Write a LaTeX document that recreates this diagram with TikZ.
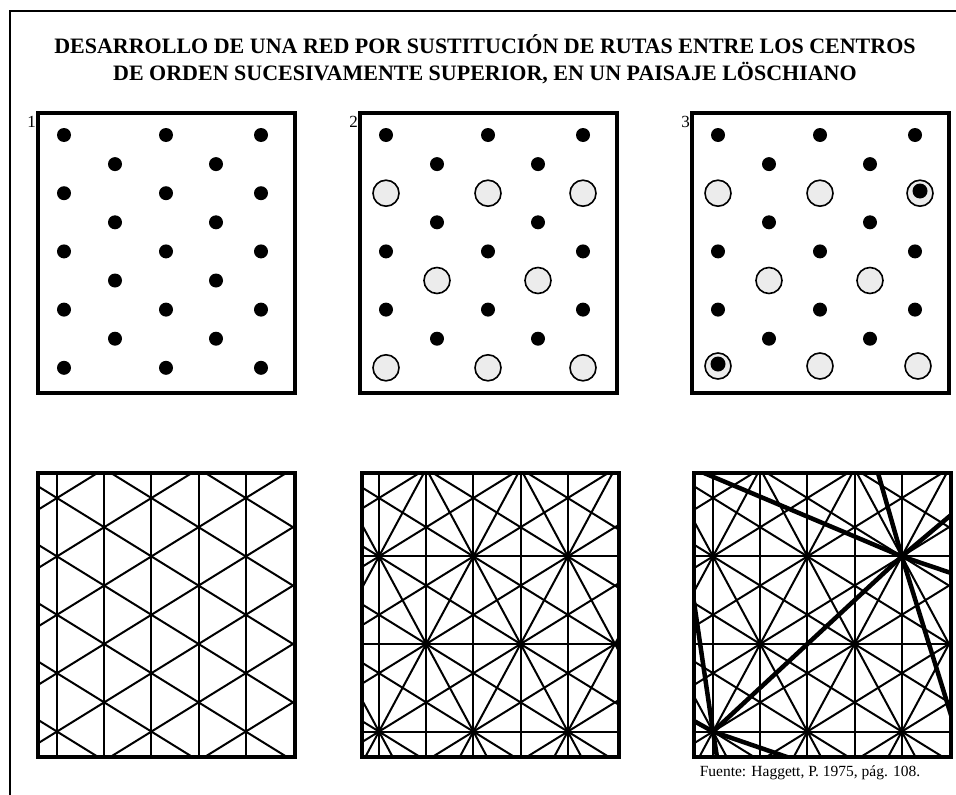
\documentclass[tikz,border=0pt]{standalone}
\usepackage{fontspec}
\setmainfont{Liberation Serif}
\definecolor{gris}{RGB}{236,236,236}
\tikzset{
  marco/.style={line width=4pt},
  ruta/.style={line width=2pt},
  rutagruesa/.style={line width=4.5pt, line cap=round},
  centro/.style={fill=black},
  centrodos/.style={draw=black, line width=1.6pt, fill=gris},
  titulo/.style={font=\bfseries\fontsize{22}{27}\selectfont, align=center, inner sep=0pt},
  numero/.style={font=\fontsize{17}{17}\selectfont, inner sep=0pt, anchor=base east},
  fuente/.style={font=\fontsize{15.5}{17}\selectfont, inner sep=0pt},
}
\newcommand{\puntos}[1]{%
  \foreach \fila in {0,2,4,6,8}
    \foreach \col in {26,128,223}
      \fill[centro] ({#1+\col},{135+29.1*\fila}) circle (7pt);
  \foreach \fila in {1,3,5,7}
    \foreach \col in {77,178}
      \fill[centro] ({#1+\col},{135+29.1*\fila}) circle (7pt);
}
\newcommand{\redbase}[1]{%
  \foreach \col in {0,...,4}
    \draw[ruta] ({#1+19+47.2*\col},473) -- ({#1+19+47.2*\col},757);
  \foreach \j in {-6,...,7}{
    \draw[ruta] ({#1+19+94.4*\j-56.6},463) -- ({#1+19+94.4*\j+434.9},767);
    \draw[ruta] ({#1+19+94.4*\j+56.6},463) -- ({#1+19+94.4*\j-434.9},767);
  }
}
\newcommand{\redsegundo}[1]{%
  \foreach \y in {556.4,644,731.6}
    \draw[ruta] (#1,\y) -- ({#1+257},\y);
  \foreach \j in {-3,...,5}{
    \draw[ruta] ({#1+19+94.4*\j-50.3},463) -- ({#1+19+94.4*\j+113.5},767);
    \draw[ruta] ({#1+19+94.4*\j+50.3},463) -- ({#1+19+94.4*\j-113.5},767);
  }
}

\begin{document}
\begin{tikzpicture}[x=1pt, y=-1pt]
\useasboundingbox (0,0) rectangle (956,795);
\draw[line width=2pt] (10,795) -- (10,11) -- (956,11);

\node[titulo] (titulo) at (485,59) {DESARROLLO DE UNA RED POR SUSTITUCIÓN DE RUTAS ENTRE LOS CENTROS\\DE ORDEN SUCESIVAMENTE SUPERIOR, EN UN PAISAJE LÖSCHIANO};

\node[numero] (num1) at (36,127) {1};
\node[numero] (num2) at (358,127) {2};
\node[numero] (num3) at (690,127) {3};

\puntos{38}
\draw[marco] (38,113) rectangle (295,393);

\puntos{360}
\foreach \x/\y in {386/193.2, 488/193.2, 583/193.2, 437/280.5, 538/280.5, 386/367.8, 488/367.8, 583/367.8}
  \draw[centrodos] (\x,\y) circle (13pt);
\draw[marco] (360,113) rectangle (617,393);

\puntos{692}
\foreach \x/\y in {718/193.2, 820/193.2, 920/193.2, 769/280.5, 870/280.5, 718/366, 820/366, 918/366}
  \draw[centrodos] (\x,\y) circle (13pt);
\fill[centro] (920,191) circle (7.5pt);
\fill[centro] (718,364) circle (7.5pt);
\draw[marco] (692,113) rectangle (949,393);

\begin{scope}
\clip (38,473) rectangle (295,757);
\redbase{38}
\end{scope}
\draw[marco] (38,473) rectangle (295,757);

\begin{scope}
\clip (362,473) rectangle (619,757);
\redbase{360}
\redsegundo{360}
\end{scope}
\draw[marco] (362,473) rectangle (619,757);

\coordinate (A) at (901.8,556.4);
\coordinate (B) at (713,731.6);
\coordinate (a1) at (704,473);
\coordinate (a2) at (878,473);
\coordinate (a3) at (951,515);
\coordinate (a4) at (951,573);
\coordinate (a5) at (951,715);
\coordinate (b1) at (694,602);
\coordinate (b2) at (694,721);
\coordinate (b3) at (787,757);
\coordinate (b4) at (717,757);
\begin{scope}
\clip (694,473) rectangle (951,757);
\redbase{694}
\redsegundo{694}
\draw[rutagruesa] (A) -- (B);
\foreach \e in {a1,a2,a3,a4,a5}
  \draw[rutagruesa] (A) -- (\e);
\foreach \e in {b1,b2,b3,b4}
  \draw[rutagruesa] (B) -- (\e);
\end{scope}
\draw[marco] (694,473) rectangle (951,757);

\node[fuente] (fuente) at (810,773) {Fuente: Haggett, P. 1975, pág. 108.};
\end{tikzpicture}
\end{document}
